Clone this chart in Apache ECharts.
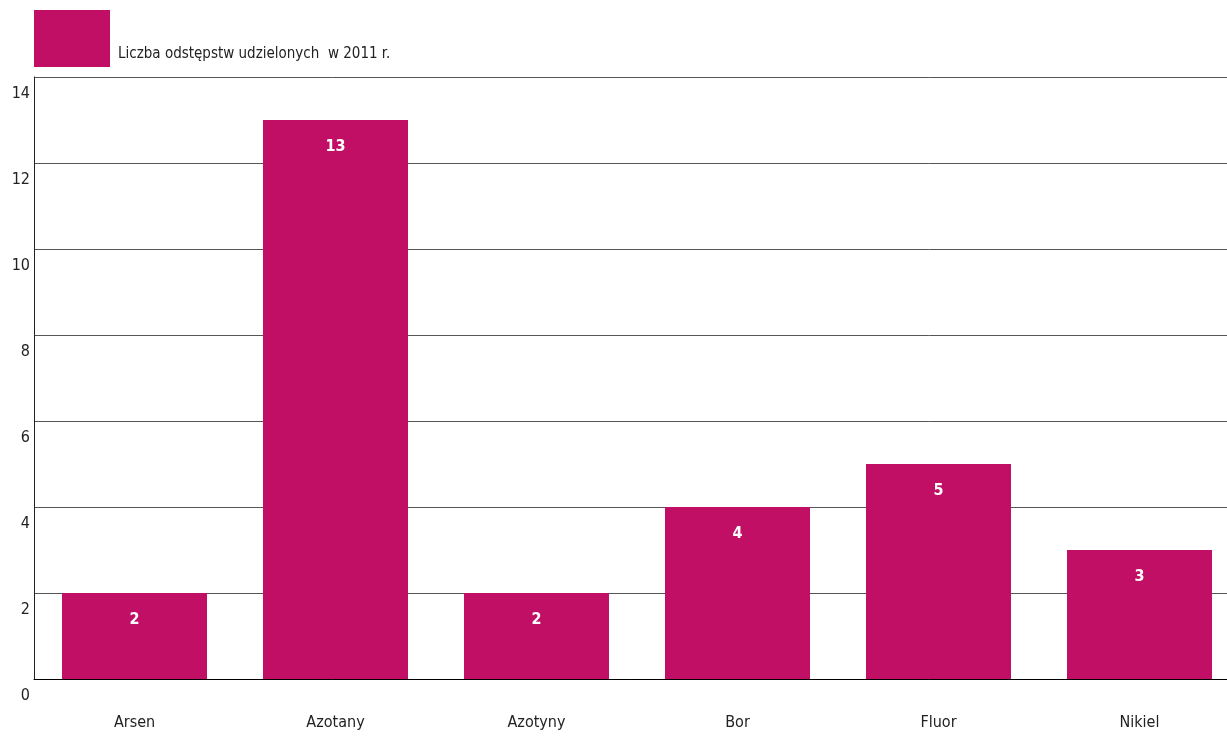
<!DOCTYPE html>
<html>
<head>
<meta charset="utf-8">
<script src="https://cdn.jsdelivr.net/npm/echarts@6/dist/echarts.min.js"></script>
<style>
html,body{margin:0;padding:0;background:#fff;}
#chart{width:1227px;height:736px;}
</style>
</head>
<body>
<div id="chart"></div>
<script>
const categories = ['Arsen', 'Azotany', 'Azotyny', 'Bor', 'Fluor', 'Nikiel'];
const values = [2, 13, 2, 4, 5, 3];
const seriesName = 'Liczba odstępstw udzielonych  w 2011 r.';
const FONT = '"DejaVu Sans Condensed", "Liberation Sans Narrow", sans-serif';
const COLOR = '#C10F66';

const chart = echarts.init(document.getElementById('chart'), null, {renderer: 'canvas'});
chart.setOption({
  animation: false,
  backgroundColor: '#fff',
  textStyle: {fontFamily: FONT},
  legend: {
    left: 29, top: 5,
    itemWidth: 76, itemHeight: 57,
    itemGap: 8,
    icon: 'rect',
    align: 'left',
    data: [seriesName],
    formatter: function (n) { return '{a|' + n + '}'; },
    textStyle: {
      fontFamily: FONT, fontSize: 15, color: '#222',
      rich: {a: {fontFamily: FONT, fontSize: 15, color: '#222', padding: [32, 0, 0, 3]}}
    }
  },
  grid: {left: 34, width: 1206, top: 77, bottom: 57, containLabel: false, outerBoundsMode: 'none'},
  xAxis: {
    type: 'category',
    data: categories,
    axisLine: {show: true, lineStyle: {color: '#000', width: 1}},
    axisTick: {show: false},
    axisLabel: {fontFamily: FONT, fontSize: 16, color: '#222', margin: 36}
  },
  yAxis: {
    type: 'value',
    min: 0, max: 14, interval: 2,
    axisLine: {show: true, lineStyle: {color: '#222', width: 1}},
    axisTick: {show: false},
    axisLabel: {fontFamily: FONT, fontSize: 16, color: '#222', margin: 4, verticalAlign: 'top', padding: [9, 0, 0, 0]},
    splitLine: {show: true, lineStyle: {color: '#555', width: 1}}
  },
  series: [{
    name: seriesName,
    type: 'bar',
    data: values,
    barWidth: 145,
    itemStyle: {color: COLOR},
    label: {
      show: true,
      position: 'insideTop',
      distance: 19,
      color: '#fff',
      fontWeight: 'bold',
      fontSize: 16,
      fontFamily: FONT
    }
  }]
});
</script>
</body>
</html>
